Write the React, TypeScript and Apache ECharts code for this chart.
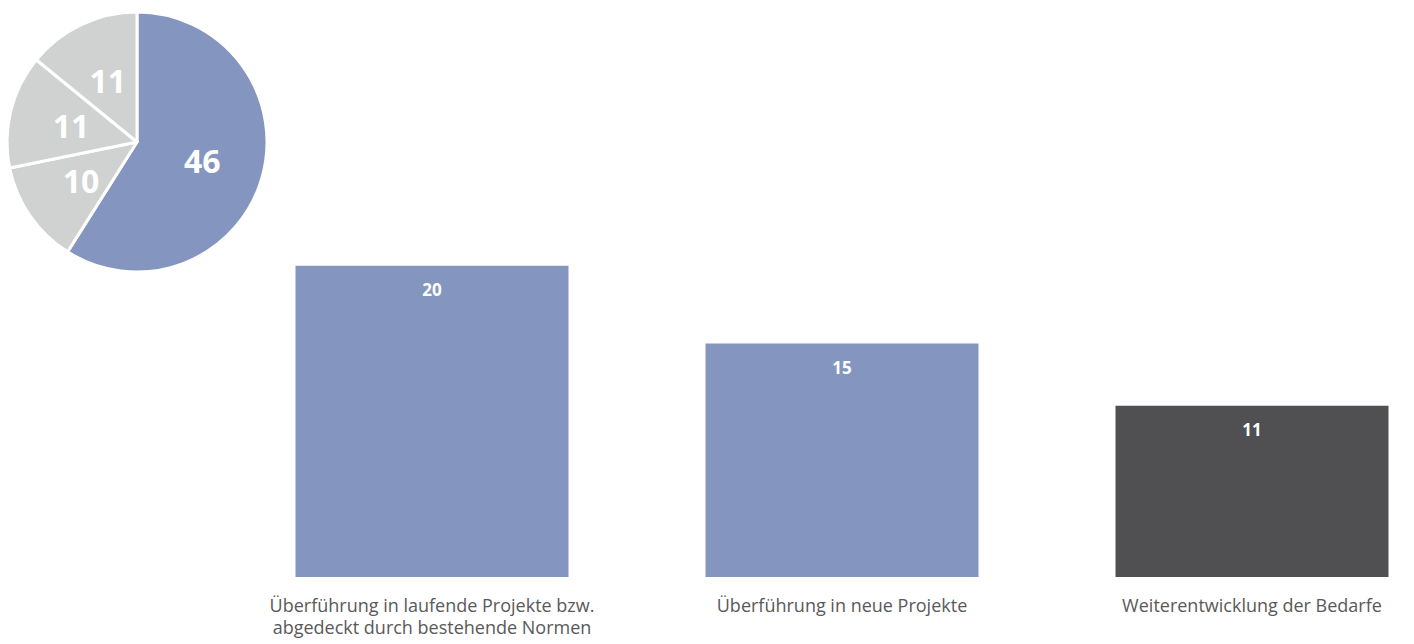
import React, { useEffect, useRef } from "react";
import * as echarts from "echarts";

const pieValues = [46, 10, 11, 11];
const pieColors = ["#8496BF", "#D0D1D1", "#D0D1D1", "#D0D1D1"];
const barCategories = [
  "Überführung in laufende Projekte bzw.\nabgedeckt durch bestehende Normen",
  "Überführung in neue Projekte",
  "Weiterentwicklung der Bedarfe",
];
const barValues = [20, 15, 11];
const barColors = ["#8496BF", "#8496BF", "#505052"];

export default function App() {
  const ref = useRef<HTMLDivElement>(null);
  useEffect(() => {
    if (!ref.current) return;
    const chart = echarts.init(ref.current, undefined, { renderer: "svg" });
    const font = "'Open Sans', 'Noto Sans', sans-serif";
    chart.setOption({
      animation: false,
      textStyle: { fontFamily: font },
      grid: { left: 432, top: 188, width: 820, bottom: 67, containLabel: false },
      xAxis: {
        type: "category",
        boundaryGap: false,
        data: barCategories,
        axisLine: { show: false },
        axisTick: { show: false },
        splitLine: { show: false },
        axisLabel: {
          color: "#595959",
          fontSize: 18,
          fontFamily: font,
          margin: 17,
          lineHeight: 22,
          interval: 0,
        },
      },
      yAxis: {
        type: "value",
        min: 0,
        max: 25,
        show: false,
        splitLine: { show: false },
      },
      series: [
        {
          type: "bar",
          barWidth: 273,
          data: barValues.map((v, i) => ({ value: v, itemStyle: { color: barColors[i] } })),
          label: {
            show: true,
            position: "insideTop",
            distance: 15,
            color: "#FFFFFF",
            fontWeight: "bold",
            fontSize: 17,
            fontFamily: font,
          },
        },
        {
          type: "pie",
          center: [137, 142],
          radius: [0, 130],
          startAngle: 90,
          clockwise: true,
          data: pieValues.map((v, i) => ({ value: v, itemStyle: { color: pieColors[i] } })),
          itemStyle: { borderColor: "#FFFFFF", borderWidth: 3 },
          label: {
            show: true,
            position: "inside",
            color: "#FFFFFF",
            fontWeight: "bold",
            fontSize: 32,
            fontFamily: font,
            formatter: "{c}",
          },
          labelLine: { show: false },
        },
      ],
    });
    return () => chart.dispose();
  }, []);
  return (
    <div
      ref={ref}
      style={{ position: "fixed", left: 0, top: 0, width: 1414, height: 644, background: "#FFFFFF" }}
    />
  );
}
